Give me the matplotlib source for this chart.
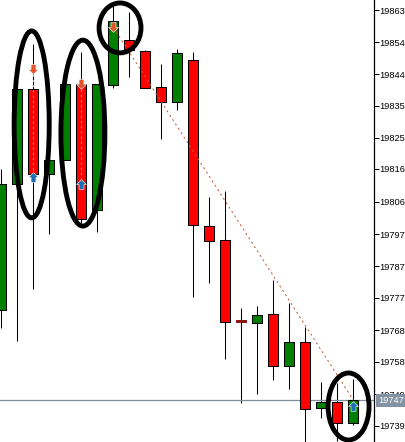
"""Candlestick chart with trade arrows and hand drawn ellipses."""
import matplotlib
matplotlib.use('Agg')
import matplotlib.pyplot as plt
from matplotlib.patches import Ellipse, Rectangle
from matplotlib.path import Path

UP = '#008000'
DOWN = '#ff0000'

opens = [19773.6, 19811.2, 19839.6, 19814.2, 19818.4, 19841.0, 19803.4, 19840.8,
         19854.2, 19850.9, 19840.2, 19835.7, 19848.2, 19798.7, 19794.5, 19770.6,
         19769.7, 19772.4, 19756.9, 19764.0, 19744.3, 19746.1, 19739.9]
closes = [19811.2, 19839.6, 19814.2, 19818.4, 19841.0, 19800.8, 19841.0, 19859.9,
          19851.2, 19839.9, 19835.7, 19850.3, 19799.0, 19794.2, 19770.0, 19770.0,
          19772.1, 19756.9, 19764.0, 19744.0, 19746.1, 19739.9, 19746.7]
highs = [19815.7, 19839.6, 19852.9, 19818.4, 19841.0, 19850.6, 19841.0, 19864.3,
         19862.5, 19851.2, 19847.0, 19851.5, 19850.6, 19807.3, 19809.1, 19774.2,
         19774.8, 19782.6, 19775.7, 19768.5, 19752.1, 19751.8, 19753.0]
lows = [19768.2, 19764.3, 19779.9, 19796.3, 19818.4, 19799.6, 19796.9, 19839.9,
        19843.1, 19839.9, 19824.6, 19833.3, 19777.5, 19781.7, 19759.0, 19745.8,
        19748.5, 19752.7, 19750.0, 19734.2, 19741.4, 19734.5, 19739.3]

tick_values = [19863.0, 19853.5, 19844.0, 19834.6, 19825.0, 19815.7, 19805.9,
               19796.2, 19786.7, 19777.2, 19767.6, 19758.1, 19748.5, 19739.0]
tick_labels = ['19863', '19854', '19844', '19835', '19825', '19816', '19806',
               '19797', '19787', '19777', '19768', '19758', '19749', '19739']
last_price = 19746.6

# trades: (bar, price)
sell_arrows = [(2, 19845.5), (5, 19841.0), (7, 19858.0)]
buy_arrows = [(2, 19813.3), (5, 19811.2), (22, 19745.0)]
trade_links = [([2, 2], [19845.5, 19813.3]), ([5, 5], [19841.0, 19811.2])]
main_link = ([7, 22], [19858.0, 19746.7])

# ellipses: (bar, price, width in bars, height in price)
ellipses = [(1.9, 19829.0, 2.19, 55.8), (5.1, 19826.4, 2.75, 55.5),
            (7.42, 19857.8, 2.62, 14.9), (21.7, 19744.8, 2.56, 20.0)]

ARROW_DOWN = Path([(-0.5, 1), (0.5, 1), (0.5, 0.0), (1, 0.0), (0, -1), (-1, 0.0),
                   (-0.5, 0.0), (-0.5, 1)], closed=True)
ARROW_UP = Path([(-0.5, -1), (0.5, -1), (0.5, 0.0), (1, 0.0), (0, 1), (-1, 0.0),
                 (-0.5, 0.0), (-0.5, -1)], closed=True)


def plot_candles(ax, width=0.64):
    """Draw wick and body of every bar."""
    for i, (o, c, h, l) in enumerate(zip(opens, closes, highs, lows)):
        ax.plot([i, i], [l, h], color='black', lw=0.75, zorder=1,
                solid_capstyle='butt')
        color = UP if c >= o else DOWN
        edge = 'black'
        if abs(c - o) < 1:
            # the flat bar reads dark red, not black
            color = edge = '#8c1414'
        ax.add_patch(Rectangle((i - width / 2, min(o, c)), width, abs(c - o),
                               facecolor=color, edgecolor=edge, lw=0.75,
                               zorder=2))


fig = plt.figure(figsize=(4.06, 4.42), dpi=100)
ax = fig.add_axes([0, 0, 374 / 406, 1])
ax.set_xlim(-0.08, 23.29)
ax.set_ylim(19734.2, 19866.13)

plot_candles(ax)

ax.axhline(last_price, color='#7f8c99', lw=0.9, zorder=1.5)

for xs, ys in trade_links:
    ax.plot(xs, ys, color='#f59070', lw=0.75, ls=(0, (2, 3)), zorder=3)
ax.plot(*main_link, color='#c8603c', lw=0.75, ls=(0, (2, 3)), zorder=3)

ax.scatter(*zip(*sell_arrows), marker=ARROW_DOWN, s=50, color='#e0532c',
           edgecolors='white', linewidths=0.4, zorder=4)
ax.scatter(*zip(*buy_arrows), marker=ARROW_UP, s=50, color='#1b6fb5',
           edgecolors='white', linewidths=0.4, zorder=4)

for x, y, w, h in ellipses:
    ax.add_patch(Ellipse((x, y), w, h, fill=False, edgecolor='black', lw=3.5,
                         zorder=5))

for side in ['top', 'left', 'bottom']:
    ax.spines[side].set_visible(False)
ax.spines['right'].set_linewidth(0.9)
ax.set_xticks([])
ax.yaxis.tick_right()
ax.set_yticks(tick_values)
ax.set_yticklabels(tick_labels, fontsize=6.7, family='Liberation Sans')
ax.tick_params(axis='y', length=3.3, width=0.75, pad=0.8)

ax.text(1.0107, last_price, f'{last_price:.0f}', transform=ax.get_yaxis_transform(),
        ha='left', va='center', color='white', fontsize=6.7,
        family='Liberation Sans', zorder=6, clip_on=False,
        bbox=dict(boxstyle='square,pad=0.2', facecolor='#8393a3', edgecolor='none'))

fig.savefig('out.png', dpi=100)
